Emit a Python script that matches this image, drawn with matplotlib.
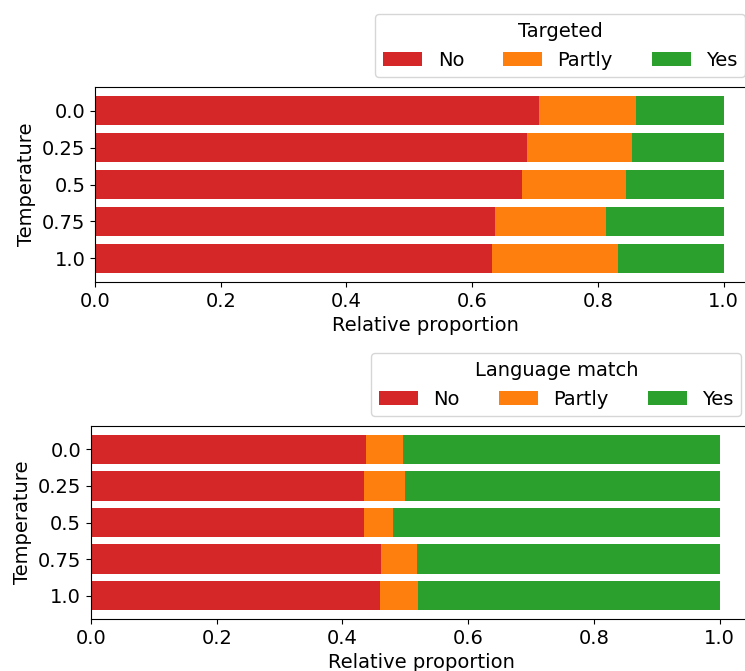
import matplotlib.pyplot as plt
import numpy as np

temperatures = ["0.0", "0.25", "0.5", "0.75", "1.0"]
categories = ["No", "Partly", "Yes"]
colors = ["tab:red", "tab:orange", "tab:green"]

# share of answers per temperature: No, Partly, Yes
targeted_no = [0.706, 0.688, 0.680, 0.637, 0.631]
targeted_partly = [0.154, 0.167, 0.165, 0.176, 0.201]
targeted_yes = [0.140, 0.145, 0.155, 0.187, 0.168]

language_no = [0.438, 0.435, 0.435, 0.462, 0.460]
language_partly = [0.059, 0.064, 0.046, 0.057, 0.061]
language_yes = [0.503, 0.501, 0.519, 0.481, 0.479]

plt.rcParams["font.size"] = 14

fig = plt.figure(figsize=(7.45, 6.71), dpi=100)
ax_top = fig.add_axes([0.1275, 0.5797, 0.886, 0.2906])
ax_bot = fig.add_axes([0.1221, 0.0775, 0.886, 0.2876])


def stacked(ax, parts, title):
    y = np.arange(len(temperatures))
    left = np.zeros(len(temperatures))
    for name, vals, c in zip(categories, parts, colors):
        ax.barh(y, vals, left=left, height=0.8, color=c, label=name)
        left += np.array(vals)
    ax.set_yticks(y)
    ax.set_yticklabels(temperatures)
    ax.invert_yaxis()
    ax.set_xlabel("Relative proportion")
    ax.set_ylabel("Temperature")
    ax.legend(title=title, ncol=3, loc="lower right",
              bbox_to_anchor=(1.0, 1.0))


stacked(ax_top, [targeted_no, targeted_partly, targeted_yes], "Targeted")
stacked(ax_bot, [language_no, language_partly, language_yes], "Language match")

fig.savefig("out.png", dpi=100)
